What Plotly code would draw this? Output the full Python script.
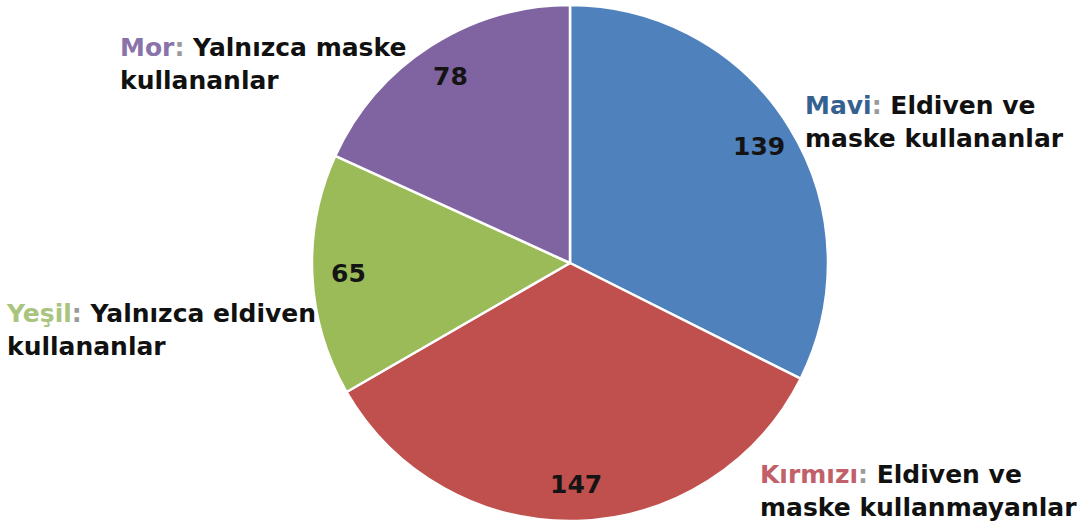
import numpy as np
import plotly.graph_objects as go

# ---- data ----
names = ["Mavi", "Kırmızı", "Yeşil", "Mor"]
descriptions = [
    "Eldiven ve<br>maske kullananlar",
    "Eldiven ve<br>maske kullanmayanlar",
    "Yalnızca eldiven<br>kullananlar",
    "Yalnızca maske<br>kullananlar",
]
values = [139, 147, 65, 78]
slice_colors = ["#4F81BD", "#C0504D", "#9BBB59", "#8064A2"]
name_colors = ["#34618F", "#C2606A", "#A9C47E", "#8A72AA"]

# ---- layout constants ----
W, H = 1085, 531
CX_PX, CY_PX, R_PX = 570, 263, 258
FONT = "DejaVu Sans, Liberation Sans, Arial, sans-serif"

dom_x = [(CX_PX - R_PX) / W, (CX_PX + R_PX) / W]
dom_y = [(H - CY_PX - R_PX) / H, (H - CY_PX + R_PX) / H]

fig = go.Figure(
    go.Pie(
        labels=names,
        values=values,
        sort=False,
        direction="clockwise",
        rotation=0,
        marker=dict(colors=slice_colors, line=dict(color="white", width=2.5)),
        textinfo="none",
        hoverinfo="label+value",
        domain=dict(x=dom_x, y=dom_y),
        showlegend=False,
    )
)

# value labels placed along each slice's mid-angle (computed from the data)
vals = np.array(values, dtype=float)
cum = np.cumsum(vals)
mids = (cum - vals / 2) / vals.sum() * 2 * np.pi
annotations = []
for v, a in zip(values, mids):
    px = CX_PX + 0.86 * R_PX * np.sin(a)
    py = CY_PX - 0.86 * R_PX * np.cos(a)
    annotations.append(dict(
        x=px / W, y=1 - py / H, xref="paper", yref="paper",
        text=f"<b>{v}</b>", showarrow=False,
        xanchor="center", yanchor="middle",
        font=dict(family=FONT, size=25, color="#141414"),
    ))

# outside descriptive labels (left x px, vertical middle px)
label_pos = [(803, 122), (758, 491), (4, 330), (118, 64)]
for name, desc, col, (lx, ly) in zip(names, descriptions, name_colors, label_pos):
    annotations.append(dict(
        x=lx / W, y=1 - ly / H, xref="paper", yref="paper",
        text=f"<span style='color:{col}'>{name}</span><span style='color:#9a9a9a'>:</span> {desc}",
        showarrow=False, xanchor="left", yanchor="middle", align="left",
        font=dict(family=FONT, size=25, color="#111111", weight="bold"),
    ))

fig.update_layout(
    width=W, height=H,
    margin=dict(l=0, r=0, t=0, b=0),
    paper_bgcolor="white", plot_bgcolor="white",
    annotations=annotations,
)

fig.write_html(
    "out.html",
    config={"displayModeBar": False},
    post_script="document.body.style.margin='0px';document.body.style.padding='0px';",
)
